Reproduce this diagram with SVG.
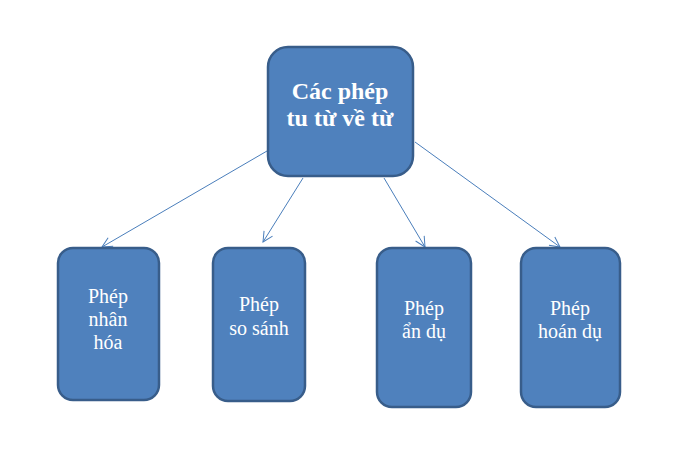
<svg xmlns="http://www.w3.org/2000/svg" width="676" height="458" viewBox="0 0 676 458">
<style>
.box{fill:#4f81bd;stroke:#385d8a;stroke-width:2.5}
.t{fill:#ffffff;font-family:"Liberation Serif","Times New Roman",serif;text-anchor:middle}
.big{font-size:24px;font-weight:bold}
.sm{font-size:20px}
.c{stroke:#4a7ebb;stroke-width:1;fill:none;marker-end:url(#ah)}
</style>
<defs>
<marker id="ah" viewBox="0 0 12 12" refX="11" refY="6" markerWidth="12" markerHeight="12" markerUnits="userSpaceOnUse" orient="auto">
<path d="M1,1 L11,6 L1,11" fill="none" stroke="#4a7ebb" stroke-width="1"/>
</marker>
</defs>
<rect width="676" height="458" fill="#ffffff"/>
<g id="connectors">
<line class="c" x1="267" y1="151" x2="102" y2="247"/>
<line class="c" x1="303" y1="178" x2="263" y2="242"/>
<line class="c" x1="384" y1="178" x2="425" y2="247"/>
<line class="c" x1="415" y1="142" x2="560" y2="247"/>
</g>
<g id="root">
<rect class="box" x="268" y="47" width="145" height="129" rx="20"/>
<text class="t big" x="340" y="99">Các phép</text>
<text class="t big" x="340" y="126">tu từ về từ</text>
</g>
<g id="nhanhoa">
<rect class="box" x="58" y="248" width="101" height="152" rx="15"/>
<text class="t sm" x="108" y="303">Phép</text>
<text class="t sm" x="108" y="326">nhân</text>
<text class="t sm" x="108" y="349">hóa</text>
</g>
<g id="sosanh">
<rect class="box" x="213" y="248" width="92" height="153" rx="15"/>
<text class="t sm" x="259" y="311">Phép</text>
<text class="t sm" x="259" y="335">so sánh</text>
</g>
<g id="andu">
<rect class="box" x="377" y="248" width="94" height="159" rx="15"/>
<text class="t sm" x="424" y="315">Phép</text>
<text class="t sm" x="424" y="338">ẩn dụ</text>
</g>
<g id="hoandu">
<rect class="box" x="521" y="248" width="99" height="159" rx="15"/>
<text class="t sm" x="570" y="315">Phép</text>
<text class="t sm" x="570" y="338">hoán dụ</text>
</g>
</svg>
